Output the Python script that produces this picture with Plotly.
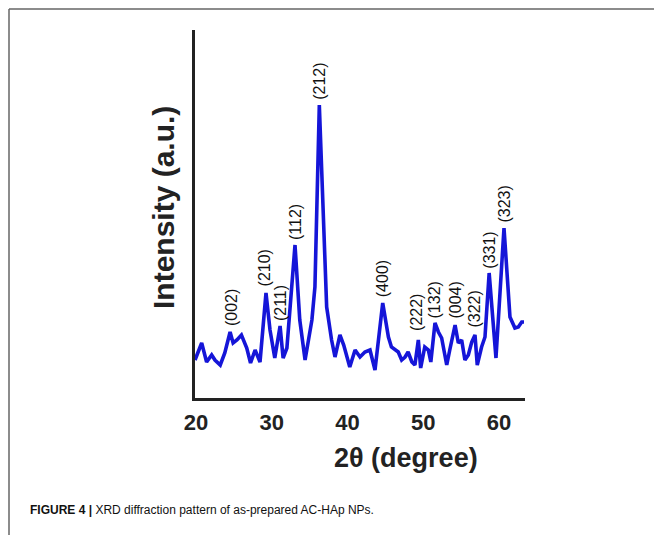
import plotly.graph_objects as go

# ---- data ----
two_theta = [19.87, 20.75, 21.4, 22.07, 22.5, 23.2, 23.8, 24.5, 24.9, 25.4, 26.0, 26.7, 27.2, 27.8,
             28.45, 29.24, 29.77, 30.4, 31.1, 31.5, 32.0, 33.07, 33.7, 34.4, 35.3, 35.7, 36.28, 36.8,
             37.25, 37.9, 38.35, 39.0, 39.5, 40.3, 41.0, 41.65, 42.3,
             42.97, 43.63, 44.65, 45.4, 45.8, 46.7, 47.15, 47.6, 48.0, 48.5, 48.9, 49.35, 49.66,
             50.2, 50.67, 51.0, 51.55, 52.0, 52.43, 53.1, 53.5, 54.2, 54.63, 55.07, 55.5, 55.95,
             56.4, 56.83, 57.13, 57.7, 58.15, 58.7, 59.6, 60.66, 61.45, 62.1, 62.55, 63.0, 63.3]
intensity = [38, 55, 36, 43, 38, 33, 45, 66, 55, 58, 63, 50, 35, 48,
             36, 105, 68, 40, 72, 40, 50, 153, 78, 38, 78, 111, 293, 171,
             91, 58, 41, 63, 53, 31, 48, 41, 46,
             48, 28, 95, 61, 51, 46, 38, 41, 46, 36, 33, 58, 30,
             51, 48, 36, 75, 66, 60, 33, 48, 73, 55, 58, 38, 43,
             56, 63, 33, 51, 61, 125, 40, 170, 81, 70, 71, 76, 76]

peak_labels = ["(002)", "(210)", "(211)", "(112)", "(212)", "(400)", "(222)", "(132)",
               "(004)", "(322)", "(331)", "(323)"]
peak_pos = [24.7, 29.1, 31.1, 33.07, 36.28, 44.65, 49.1, 51.55, 54.2, 56.7, 58.7, 60.66]
peak_top = [70, 110, 75, 156, 296, 99, 65, 78, 77, 68, 127, 173]

x_ticks = [20, 30, 40, 50, 60]

# ---- layout geometry (pixels) ----
W, H = 654, 535
L, R, T, B = 195, 654 - 525, 30, 535 - 398
PW, PH = W - L - R, H - T - B


def px(x):
    return (x - L) / PW


def py(y):
    return (H - B - y) / PH


fig = go.Figure()
fig.add_trace(go.Scatter(x=two_theta, y=intensity, mode="lines",
                         line=dict(color="#1515d8", width=3.6),
                         hoverinfo="skip", showlegend=False))

for lab, xp, yt in zip(peak_labels, peak_pos, peak_top):
    fig.add_annotation(x=xp, y=yt, text=lab, textangle=-90, showarrow=False,
                       xanchor="center", yanchor="bottom",
                       font=dict(family="Liberation Sans, Arial", size=16, color="#111"))

fig.add_annotation(xref="paper", yref="paper", x=px(406), y=py(458), text="<b>2θ (degree)</b>",
                   showarrow=False, xanchor="center", yanchor="middle",
                   font=dict(family="Liberation Sans, Arial", size=27, color="#222"))
fig.add_annotation(xref="paper", yref="paper", x=px(163), y=py(208), text="<b>Intensity (a.u.)</b>",
                   showarrow=False, xanchor="center", yanchor="middle", textangle=-90,
                   font=dict(family="Liberation Sans, Arial", size=30, color="#222"))
fig.add_annotation(xref="paper", yref="paper", x=px(28), y=py(510),
                   text="<b>FIGURE 4 |</b> XRD diffraction pattern of as-prepared AC-HAp NPs.",
                   showarrow=False, xanchor="left", yanchor="middle",
                   font=dict(family="Liberation Sans, Arial", size=12, color="#111"))

# outer frame lines
fig.add_shape(type="line", xref="paper", yref="paper", x0=px(9), x1=px(654), y0=py(9), y1=py(9),
              line=dict(color="#666", width=1.5))
fig.add_shape(type="line", xref="paper", yref="paper", x0=px(9), x1=px(9), y0=py(9), y1=py(535),
              line=dict(color="#666", width=1.5))

fig.update_layout(
    width=W, height=H, margin=dict(l=L, r=R, t=T, b=B),
    paper_bgcolor="white", plot_bgcolor="white",
    xaxis=dict(range=[20 - 1 / 7.575, 20 + (525 - 196) / 7.575], tickvals=x_ticks,
               showgrid=False, zeroline=False, showline=True, linecolor="#222", linewidth=2.5,
               ticks="", ticklabelstandoff=3,
               tickfont=dict(family="Liberation Sans, Arial", size=22, color="#222", weight="bold")),
    yaxis=dict(range=[0, PH], showgrid=False, zeroline=False, showline=True, linecolor="#222",
               linewidth=2.5, showticklabels=False, ticks=""),
)

fig.write_html("out.html", config={"displayModeBar": False},
               post_script="document.body.style.margin='0';")
